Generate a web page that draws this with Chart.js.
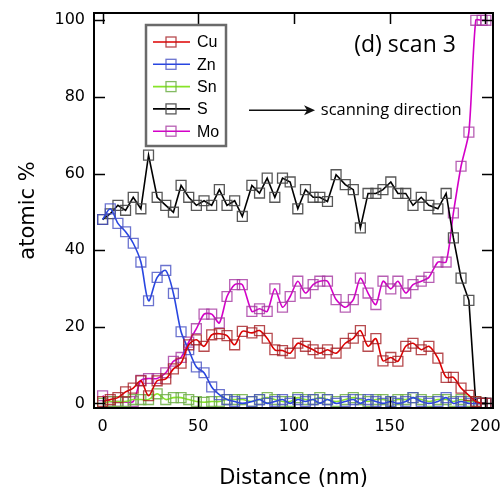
<!DOCTYPE html>
<html>
<head>
<meta charset="utf-8">
<script src="https://cdn.jsdelivr.net/npm/chart.js@4/dist/chart.umd.min.js"></script>
<style>
  html, body { margin: 0; padding: 0; background: #fff; }
  #c { display: block; }
</style>
</head>
<body>
<canvas id="c" width="502" height="492"></canvas>
<script>
// distance along the scan (nm), one entry per measured point
const distance = [0, 4, 8, 12, 16, 20, 24, 28.5, 33, 37, 41, 45, 49, 53, 57, 61, 65, 69, 73, 78,
  82, 86, 90, 94, 98, 102, 106, 110, 113.5, 117.5, 122, 126.8, 131, 134.7, 138.7, 142.8, 146.5,
  150.6, 154.3, 158.4, 162.2, 166.5, 170.5, 175.2, 179.5, 183.3, 187.3, 191.4, 195, 198.3, 200.3];

const cu = [0.5, 1, 1.5, 3, 4, 5.9, 2, 5.9, 6.4, 9, 10.5, 15.3, 16.6, 14.9, 17.9, 18.2, 17.7, 15.3, 18.8, 18.4,
  19, 17, 14, 13.8, 13.1, 15.7, 14.9, 14, 13.1, 14, 13.1, 15.7, 17, 19, 14.9, 16.9, 11.1,
  12, 11, 14.9, 15.7, 14, 14.9, 11.8, 6.8, 6.8, 4, 2.1, 0.5, 0, 0];

const zn = [48, 50.8, 47, 44.8, 41.8, 36.9, 26.8, 32.9, 34.7, 28.7, 18.7, 14, 9.5, 8, 4.3, 2.3, 1, 0.5, 0, 0.5,
  1, 0, 0.5, 1, 0, 1, 0.5, 1, 0, 1, 0, 0.5, 1, 0, 1, 0.5, 0,
  0.5, 0, 0.5, 1.5, 0.5, 0, 0.5, 1.5, 0, 0.5, 0, 0, 0, 0];

const sn = [0, 0.5, 0.5, 0.5, 1, 1, 1, 2.5, 1, 1.5, 1.5, 1, 0.5, 0.3, 0.5, 0.5, 1, 1, 1, 0.5,
  1, 1.5, 1, 0.5, 0.5, 1.5, 1, 1, 1.5, 1, 0.5, 1, 1.5, 1, 0.5, 1, 1,
  0.5, 1, 1, 1.5, 1, 0.5, 1, 1, 0.5, 1, 0.5, 0.5, 0, 0];

const s = [48, 49.5, 51.7, 50.4, 53.8, 50.8, 64.8, 53.8, 51.7, 49.9, 56.9, 53.8, 51.7, 52.9, 51.7, 55.8, 51.7, 52.9, 48.8, 56.9,
  54.9, 58.8, 53.8, 58.8, 57.8, 50.8, 55.8, 53.8, 53.8, 52.7, 59.7, 57.1, 55.8, 45.8, 54.8, 54.8, 55.8,
  57.8, 54.8, 54.8, 51.7, 53.8, 51.7, 50.8, 54.8, 43.2, 32.7, 26.9, 0, 0, 0];

const mo = [2, 0.5, 0.5, 0.3, 0.5, 6, 6.5, 6.5, 8, 11, 12, 16, 19.5, 23.3, 23.3, 21, 27.9, 31, 31, 24,
  24.7, 24, 29.9, 25.1, 27.9, 31.9, 28.8, 31, 31.9, 31.9, 27.1, 25.1, 27.1, 32.7, 28.8, 25.8, 31.9,
  29.9, 31.9, 28.8, 31, 31.9, 32.9, 36.9, 36.9, 49.7, 61.9, 70.8, 100, 100, 100];

const seriesNames = ['Cu', 'Zn', 'Sn', 'S', 'Mo'];
const xTicks = [0, 50, 100, 150, 200];
const yTicks = [0, 20, 40, 60, 80, 100];

const lineColors = ['rgb(222,0,0)', 'rgb(40,70,225)', 'rgb(135,228,40)', 'rgb(0,0,0)', 'rgb(212,0,200)'];
const markColors = ['rgba(165,30,35,0.8)', 'rgba(70,80,195,0.8)', 'rgba(110,175,70,0.85)', 'rgba(70,70,70,0.9)', 'rgba(165,55,160,0.8)'];
const tensions = [0.3, 0.3, 0.3, 0, 0.25];
const seriesValues = [cu, zn, sn, s, mo];

const datasets = seriesNames.map((name, k) => ({
  label: name,
  data: distance.map((x, i) => ({ x: x, y: seriesValues[k][i] })),
  borderColor: lineColors[k],
  borderWidth: 1.6,
  tension: tensions[k],
  pointStyle: 'rect',
  pointRadius: 7,
  pointBorderWidth: 1.3,
  pointBorderColor: markColors[k],
  pointBackgroundColor: 'rgba(0,0,0,0)',
  fill: false
}));

// frame, inward ticks on all four sides
const frameTicks = {
  id: 'frameTicks',
  afterDraw(chart) {
    const { ctx, chartArea: { left, top, right, bottom } } = chart;
    const xs = chart.scales.x, ys = chart.scales.y;
    const len = 11;
    ctx.save();
    ctx.strokeStyle = '#000';
    ctx.lineWidth = 1.5;
    ctx.beginPath();
    xTicks.forEach(v => {
      const px = Math.round(xs.getPixelForValue(v)) + 0.5;
      ctx.moveTo(px, bottom); ctx.lineTo(px, bottom - len);
      ctx.moveTo(px, top); ctx.lineTo(px, top + len);
    });
    yTicks.forEach(v => {
      const py = Math.round(ys.getPixelForValue(v)) + 0.5;
      ctx.moveTo(left, py); ctx.lineTo(left + len, py);
      ctx.moveTo(right, py); ctx.lineTo(right - len, py);
    });
    ctx.stroke();
    ctx.lineWidth = 2;
    ctx.strokeRect(left, top, right - left, bottom - top);
    ctx.restore();
  }
};

// legend box and text notes
const notes = {
  id: 'notes',
  afterDraw(chart) {
    const { ctx, chartArea: { left, top } } = chart;
    const xs = chart.scales.x, ys = chart.scales.y;
    ctx.save();
    // legend
    const bx = left + 52, by = top + 12, bw = 80, bh = 121;
    ctx.fillStyle = '#fff';
    ctx.fillRect(bx, by, bw, bh);
    ctx.strokeStyle = '#6a6a6a';
    ctx.lineWidth = 2.5;
    ctx.strokeRect(bx, by, bw, bh);
    ctx.font = '16px "Liberation Sans", Arial, sans-serif';
    ctx.textBaseline = 'middle';
    ctx.textAlign = 'left';
    chart.data.datasets.forEach((d, i) => {
      const y = by + 17 + i * 22.3;
      ctx.strokeStyle = d.borderColor;
      ctx.lineWidth = 1.6;
      ctx.beginPath();
      ctx.moveTo(bx + 7, y); ctx.lineTo(bx + 44, y);
      ctx.stroke();
      ctx.strokeStyle = d.pointBorderColor;
      ctx.lineWidth = 1.3;
      ctx.strokeRect(bx + 20, y - 5, 10, 10);
      ctx.fillStyle = '#000';
      ctx.fillText(d.label, bx + 51, y + 1);
    });
    // panel label
    ctx.fillStyle = '#000';
    ctx.font = '23px "Open Sans", sans-serif';
    ctx.textBaseline = 'alphabetic';
    ctx.fillText('(d) scan 3', xs.getPixelForValue(131.5), ys.getPixelForValue(91.6));
    // scanning direction arrow
    const ay = ys.getPixelForValue(76.5);
    const ax0 = xs.getPixelForValue(76.5), ax1 = xs.getPixelForValue(111);
    ctx.strokeStyle = '#111';
    ctx.lineWidth = 1.5;
    ctx.beginPath();
    ctx.moveTo(ax0, ay); ctx.lineTo(ax1 - 6, ay);
    ctx.stroke();
    ctx.fillStyle = '#111';
    ctx.beginPath();
    ctx.moveTo(ax1, ay); ctx.lineTo(ax1 - 11, ay - 5); ctx.lineTo(ax1 - 8, ay); ctx.lineTo(ax1 - 11, ay + 5);
    ctx.closePath();
    ctx.fill();
    ctx.fillStyle = '#000';
    ctx.font = '16.5px "Open Sans", sans-serif';
    ctx.textBaseline = 'middle';
    ctx.fillText('scanning direction', xs.getPixelForValue(114), ay);
    ctx.restore();
  }
};

new Chart(document.getElementById('c'), {
  type: 'line',
  data: { datasets: datasets },
  options: {
    responsive: false,
    animation: false,
    devicePixelRatio: 1,
    layout: { padding: { left: 0, top: 13, right: 9, bottom: 0 } },
    plugins: { legend: { display: false }, tooltip: { enabled: false } },
    scales: {
      x: {
        type: 'linear',
        min: -4.5,
        max: 204,
        grid: { display: false, drawTicks: false },
        border: { display: false },
        afterBuildTicks: sc => { sc.ticks = xTicks.map(v => ({ value: v })); },
        afterFit: sc => { sc.height = 84; sc.paddingLeft = 0; sc.paddingRight = 0; },
        ticks: {
          color: '#000',
          padding: 9,
          maxRotation: 0,
          font: { family: '"DejaVu Sans", sans-serif', size: 16 }
        },
        title: {
          display: true,
          text: 'Distance (nm)',
          color: '#000',
          padding: { top: 0, bottom: 1 },
          font: { family: '"DejaVu Sans", sans-serif', size: 21 }
        }
      },
      y: {
        min: -1.2,
        max: 101.9,
        grid: { display: false, drawTicks: false },
        border: { display: false },
        afterBuildTicks: sc => { sc.ticks = yTicks.map(v => ({ value: v })); },
        afterFit: sc => { sc.width = 94; sc.paddingTop = 0; sc.paddingBottom = 0; },
        ticks: {
          color: '#000',
          padding: 9,
          font: { family: '"DejaVu Sans", sans-serif', size: 16 }
        },
        title: {
          display: true,
          text: 'atomic %',
          color: '#000',
          padding: { top: 16, bottom: 0 },
          font: { family: '"DejaVu Sans", sans-serif', size: 21 }
        }
      }
    }
  },
  plugins: [frameTicks, notes]
});
</script>
</body>
</html>
